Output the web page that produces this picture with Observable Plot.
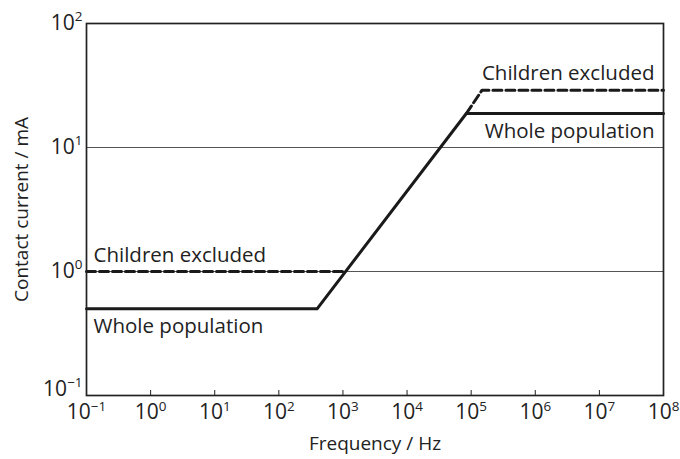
<!DOCTYPE html>
<html><head><meta charset="utf-8">
<script src="https://cdn.jsdelivr.net/npm/d3@7"></script>
<script src="https://cdn.jsdelivr.net/npm/@observablehq/plot@0.6"></script>
<style>body{margin:0;background:#fff}</style>
</head><body><div id="chart"></div>
<script>
// Axis ticks (decades)
const xTicks = [1e-1, 1e0, 1e1, 1e2, 1e3, 1e4, 1e5, 1e6, 1e7, 1e8];
const yTicks = [1e-1, 1e0, 1e1, 1e2];
const gridValues = [1, 10];

// Whole population (solid line)
const wholeFreq = [0.1, 395, 84000, 1e8];
const wholeCurrent = [0.5, 0.5, 18.8, 18.8];

// Children excluded (dashed line), visible parts
const childLowFreq = [0.1, 1050];
const childLowCurrent = [1, 1];
const childHighFreq = [84000, 148000, 1e8];
const childHighCurrent = [18.8, 29, 29];

const labelChildren = "Children excluded";
const labelWhole = "Whole population";

const toRows = (fs, cs) => fs.map((f, i) => ({f, c: cs[i]}));
const whole = toRows(wholeFreq, wholeCurrent);
const childLow = toRows(childLowFreq, childLowCurrent);
const childHigh = toRows(childHighFreq, childHighCurrent);

const supFmt = d => "10^" + String(Math.round(Math.log10(d))).replace("-", "\u2212");
const ink = "#1a1a1a";

const chart = Plot.plot({
  width: 680, height: 459,
  marginLeft: 86, marginRight: 17, marginTop: 23, marginBottom: 64,
  style: {fontFamily: "'Open Sans', sans-serif", fontSize: "20.5px", color: "#222", background: "#fff"},
  x: {type: "log", domain: [0.1, 1e8]},
  y: {type: "log", domain: [0.1, 100]},
  marks: [
    Plot.ruleY(gridValues, {stroke: "#555", strokeWidth: 1}),
    Plot.axisX(xTicks, {tickSize: 0, tickPadding: 9, tickFormat: supFmt, fontSize: 21,
      label: null}),
    Plot.axisX({label: "Frequency / Hz", ticks: [], labelAnchor: "center", labelArrow: "none", labelOffset: 54, fontSize: 19}),
    Plot.axisX(xTicks, {tickSize: 5, dy: -5, tickFormat: () => "", label: null, stroke: "#222"}),
    Plot.axisY(yTicks, {tickSize: 0, tickPadding: 4, tickFormat: supFmt, fontSize: 21, label: null}),
    Plot.axisY({label: "Contact current / mA", ticks: [], labelAnchor: "center", labelArrow: "none", labelOffset: 72, fontSize: 19}),
    Plot.line(childLow, {x: "f", y: "c", stroke: ink, strokeWidth: 3, strokeDasharray: "9,4"}),
    Plot.line(childHigh, {x: "f", y: "c", stroke: ink, strokeWidth: 3, strokeDasharray: "9,4"}),
    Plot.line(whole, {x: "f", y: "c", stroke: ink, strokeWidth: 3}),
    Plot.text([childLow[0]], {x: "f", y: "c", text: () => labelChildren, textAnchor: "start", dx: 7, dy: -16, fill: "#222"}),
    Plot.text([whole[0]], {x: "f", y: "c", text: () => labelWhole, textAnchor: "start", dx: 7, dy: 18, fill: "#222"}),
    Plot.text([childHigh[2]], {x: "f", y: "c", text: () => labelChildren, textAnchor: "end", dx: -9, dy: -17, fill: "#222"}),
    Plot.text([whole[3]], {x: "f", y: "c", text: () => labelWhole, textAnchor: "end", dx: -9, dy: 18, fill: "#222"}),
    Plot.frame({stroke: "#222", strokeWidth: 1.7})
  ]
});

// superscript exponents
chart.querySelectorAll("text").forEach(t => {
  const m = /^10\^(\S+)$/.exec(t.textContent);
  if (m) {
    t.textContent = "10";
    const ts = document.createElementNS("http://www.w3.org/2000/svg", "tspan");
    ts.setAttribute("font-size", "0.64em");
    ts.setAttribute("dy", "-0.65em");
    ts.textContent = m[1];
    t.appendChild(ts);
  }
});
// lift the lowest y label slightly clear of the x labels, as in the reference
chart.querySelectorAll('g[aria-label="y-axis tick label"] text').forEach(t => {
  if (t.textContent === "10\u22121") t.setAttribute("transform", (t.getAttribute("transform") || "") + " translate(0,-6)");
});
document.getElementById("chart").appendChild(chart);
</script>
</body></html>
